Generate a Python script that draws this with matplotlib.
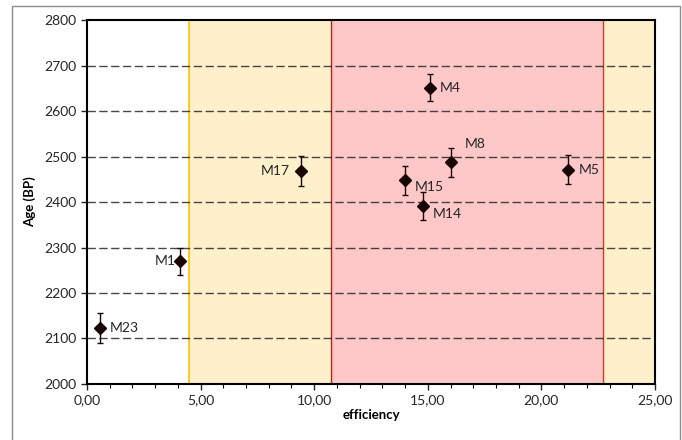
import matplotlib.pyplot as plt
from matplotlib.patches import Rectangle
from matplotlib.ticker import FuncFormatter, MultipleLocator

plt.rcParams['font.family'] = ['Lato', 'DejaVu Sans']

names = ['M23', 'M1', 'M17', 'M4', 'M8', 'M15', 'M14', 'M5']
efficiency = [0.57, 4.09, 9.42, 15.10, 16.00, 14.01, 14.80, 21.16]
age = [2123, 2270, 2469, 2651, 2487, 2448, 2392, 2471]
age_err = [33, 30, 33, 30, 31, 32, 31, 32]

# shaded efficiency zones
orange_zone = (4.5, 25.0)
red_zone = (10.75, 22.7)

fig = plt.figure(figsize=(6.82, 4.4), dpi=100)
ax = fig.add_axes([0.1276, 0.1273, 0.8328, 0.8272])

# outer frame like the spreadsheet chart border
fig.patches.append(Rectangle((12 / 682, -0.01), 668 / 682, 1 - 6 / 440 + 0.01,
                             transform=fig.transFigure, fill=False,
                             edgecolor='#8c8c8c', linewidth=1.0))

ax.axvspan(*orange_zone, color='#fff0cc', zorder=0, linewidth=0)
ax.axvspan(*red_zone, color='#ffc8c8', zorder=0, linewidth=0)
ax.axvline(orange_zone[0], color='#ffc000', linewidth=1.2, zorder=1)
ax.axvline(red_zone[0], color='#ff0000', linewidth=1.0, zorder=1)
ax.axvline(red_zone[1], color='#ff2a00', linewidth=1.0, zorder=1)

for y in range(2100, 2800, 100):
    ax.axhline(y, color='#1a1a1a', alpha=0.8, linewidth=1.0,
               dashes=(6, 2.5), zorder=2)

ax.errorbar(efficiency, age, yerr=age_err, fmt='D', color='#1a0505',
            markersize=6, elinewidth=1.0, capsize=2.5, capthick=1.0, zorder=4)

offsets = {
    'M23': (7, 0, 'left', 'center'),
    'M1': (-3, 0, 'right', 'center'),
    'M17': (-8, 0, 'right', 'center'),
    'M4': (7, 0, 'left', 'center'),
    'M8': (10, 9, 'left', 'bottom'),
    'M15': (7, -5, 'left', 'center'),
    'M14': (7, -6, 'left', 'center'),
    'M5': (8, 0, 'left', 'center'),
}
for n, x, y in zip(names, efficiency, age):
    dx, dy, ha, va = offsets[n]
    ax.annotate(n, (x, y), xytext=(dx, dy), textcoords='offset points',
                ha=ha, va=va, fontsize=10, color='#262626', zorder=5)

ax.set_xlim(0, 25)
ax.set_ylim(2000, 2800)
ax.xaxis.set_major_locator(MultipleLocator(5))
ax.xaxis.set_minor_locator(MultipleLocator(1))
ax.yaxis.set_major_locator(MultipleLocator(100))
ax.xaxis.set_major_formatter(FuncFormatter(lambda v, p: f'{v:.2f}'.replace('.', ',')))
ax.tick_params(axis='both', which='major', length=4, width=1, labelsize=10,
               colors='#262626', direction='out')
ax.tick_params(axis='x', which='minor', length=3, width=0.8, direction='out')

for s in ax.spines.values():
    s.set_linewidth(1.5)
    s.set_color('black')
    s.set_zorder(6)

ax.set_xlabel('efficiency', fontweight='bold', fontsize=9.5, labelpad=2)
ax.set_ylabel('Age (BP)', fontweight='bold', fontsize=9.5, labelpad=6)

fig.savefig('out.png', dpi=100)
